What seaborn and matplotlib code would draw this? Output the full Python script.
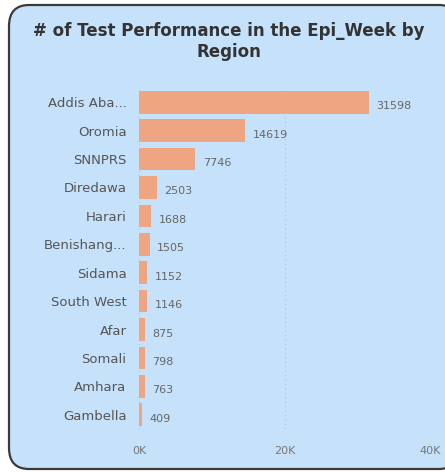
import matplotlib.pyplot as plt
import seaborn as sns
import pandas as pd
from matplotlib.patches import FancyBboxPatch

# data
regions = ["Addis Aba...", "Oromia", "SNNPRS", "Diredawa", "Harari", "Benishang...",
           "Sidama", "South West", "Afar", "Somali", "Amhara", "Gambella"]
tests = [31598, 14619, 7746, 2503, 1688, 1505, 1152, 1146, 875, 798, 763, 409]
x_ticks = [0, 20000, 40000]
x_tick_labels = ["0K", "20K", "40K"]

df = pd.DataFrame({"region": regions, "tests": tests})

sns.set_theme(style="white")
plt.rcParams["font.family"] = ["DejaVu Sans"]

card_bg = "#c6e2fb"
bar_color = "#f0a582"

fig = plt.figure(figsize=(4.45, 4.72), dpi=100)
fig.patch.set_facecolor("white")

# rounded card behind everything
card = FancyBboxPatch((9 / 445, 3 / 472), 450 / 445, 464 / 472,
                      boxstyle="round,pad=0,rounding_size=0.045",
                      transform=fig.transFigure, facecolor=card_bg,
                      edgecolor="#3a3a3a", linewidth=1.6, zorder=-5)
fig.patches.append(card)

fig.text(0.515, 0.912, "# of Test Performance in the Epi_Week by\nRegion",
         ha="center", va="center", fontsize=12, fontweight="bold",
         color="#333333", linespacing=1.2)

ax = fig.add_axes([139 / 445, 1 - 429 / 472, 291 / 445, 341 / 472])
ax.set_facecolor("none")

sns.barplot(data=df, y="region", x="tests", color=bar_color, width=0.8,
            saturation=1, linewidth=0, ax=ax, zorder=2)

ax.set_xlim(0, 40000)
ax.set_xticks(x_ticks)
ax.set_xticklabels(x_tick_labels)
ax.set_xlabel("")
ax.set_ylabel("")
ax.grid(axis="x", linestyle=(0, (1, 3)), color="#a9bfd3", linewidth=0.8, zorder=1)
for s in ax.spines.values():
    s.set_visible(False)
ax.tick_params(axis="x", length=0, pad=12, labelsize=8, labelcolor="#777777")
ax.tick_params(axis="y", length=0, pad=9, labelsize=9.5, labelcolor="#555555")

for i, v in enumerate(tests):
    ax.text(v + 1000, i + 0.14, str(v), va="center", ha="left",
            fontsize=8, color="#666666")

fig.savefig("out.png", dpi=100, facecolor=fig.get_facecolor())
